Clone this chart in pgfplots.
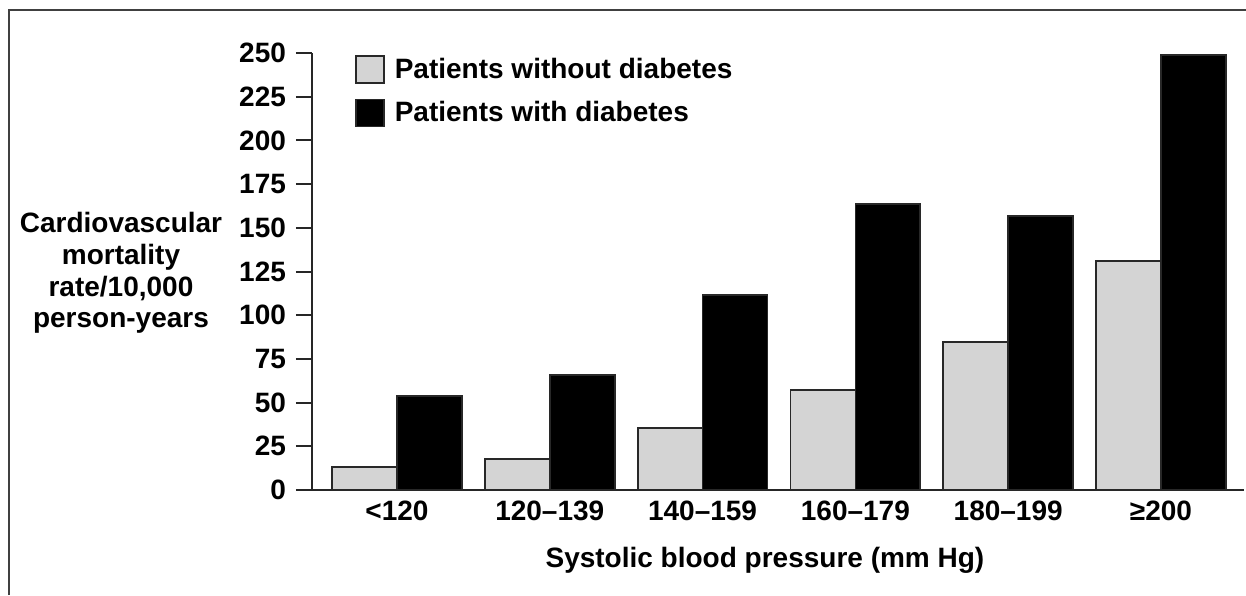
\documentclass[border=0pt]{standalone}
\usepackage{fontspec}
\setmainfont{Liberation Sans}
\usepackage{pgfplots}
\pgfplotsset{compat=1.18}
\definecolor{lightbar}{RGB}{212,212,212}
\definecolor{edge}{RGB}{40,40,40}
\begin{document}
\begin{tikzpicture}
\path[use as bounding box] (0,0) rectangle (623pt,297.5pt);
\draw[line width=0.6pt, color=black!75] (4.5pt,0) -- (4.5pt,292.5pt) -- (623pt,292.5pt);
\begin{axis}[
  at={(156pt,52.5pt)}, anchor=south west,
  scale only axis, width=466pt, height=218.5pt,
  xmin=-0.556, xmax=5.543, ymin=0, ymax=250,
  axis x line=bottom, axis y line=left,
  axis line style={-, line width=1pt, color=black!85},
  ytick={0,25,...,250},
  tick align=outside,
  major tick length=8pt,
  ytick style={line width=1pt, color=black!85},
  xtick={0,1,2,3,4,5},
  xticklabels={<120, 120–139, 140–159, 160–179, 180–199, ≥200},
  xtick style={draw=none},
  /pgf/number format/assume math mode=true,
  tick label style={font=\fontsize{14}{16}\selectfont\bfseries},
  yticklabel style={xshift=-1.5pt},
  xticklabel style={yshift=6pt},
  ybar, bar width=0.425,
  clip=false,
  legend style={draw=none, fill=none, inner sep=0pt, outer sep=0pt,
    at={(rel axis cs:0,1)}, anchor=north west, xshift=21.5pt, yshift=-0.5pt,
    font=\fontsize{14}{16}\selectfont\bfseries,
    row sep=6pt,
    /tikz/every odd column/.append style={column sep=3pt}},
  legend cell align=left,
  legend image code/.code={\draw[#1, line width=0.9pt] (0pt,-6.75pt) rectangle (14pt,6.75pt);},
]
\addplot[fill=lightbar, draw=edge, line width=0.9pt, bar shift=-0.2125]
  coordinates {(0,13.2) (1,17.7) (2,35.5) (3,57.2) (4,84.7) (5,131)};
\addlegendentry{Patients without diabetes}
\addplot[fill=black, draw=edge, line width=0.9pt, bar shift=0.2125]
  coordinates {(0,53.8) (1,65.8) (2,111.6) (3,163.6) (4,156.7) (5,248.9)};
\addlegendentry{Patients with diabetes}
\node[align=center, font=\fontsize{14}{15.85}\selectfont\bfseries, anchor=center, xshift=-95.5pt]
  at (rel axis cs:0,0.4966) {Cardiovascular\\mortality\\rate/10,000\\person-years};
\node[font=\fontsize{14}{16}\selectfont\bfseries, anchor=base, yshift=-38.5pt]
  at (rel axis cs:0.486,0) {Systolic blood pressure (mm Hg)};
\end{axis}
\end{tikzpicture}
\end{document}
